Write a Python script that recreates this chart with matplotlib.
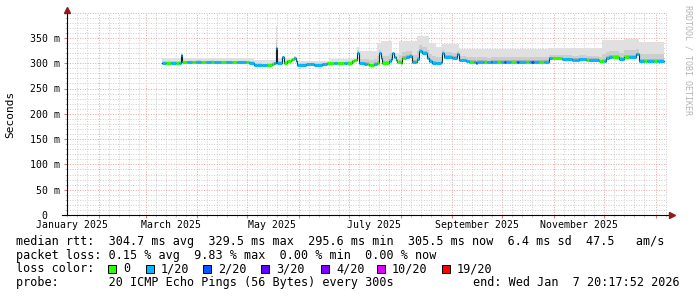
import matplotlib
matplotlib.use("Agg")
import matplotlib.pyplot as plt
import matplotlib.dates as mdates
from matplotlib.patches import Rectangle
from matplotlib.ticker import MultipleLocator, FuncFormatter, NullFormatter
import numpy as np
import pandas as pd

MONO = "DejaVu Sans Mono"

# graph window (last 360 days)
start = pd.Timestamp("2025-01-12 20:17:52")
end = pd.Timestamp("2026-01-07 20:17:52")
data_end = "2026-01-06"

# median rtt (ms), step values starting at each date, and lost pings out of 20
median_dates = [
    "2025-03-11", "2025-03-13", "2025-03-16", "2025-03-19", "2025-03-21", "2025-03-22", "2025-03-23",
    "2025-03-26", "2025-03-29", "2025-03-31", "2025-04-03", "2025-04-06", "2025-04-09", "2025-04-11",
    "2025-04-15", "2025-04-18", "2025-04-22", "2025-04-25", "2025-04-30", "2025-05-02", "2025-05-05",
    "2025-05-07", "2025-05-10", "2025-05-13", "2025-05-16", "2025-05-17", "2025-05-18", "2025-05-19",
    "2025-05-22", "2025-05-23", "2025-05-25", "2025-05-27", "2025-05-28", "2025-05-29", "2025-05-30",
    "2025-05-31", "2025-06-05", "2025-06-10", "2025-06-15", "2025-06-18", "2025-06-22", "2025-06-24",
    "2025-06-28", "2025-06-30", "2025-07-03", "2025-07-04", "2025-07-06", "2025-07-07", "2025-07-10",
    "2025-07-12", "2025-07-13", "2025-07-16", "2025-07-18", "2025-07-19", "2025-07-20", "2025-07-21",
    "2025-07-25", "2025-07-26", "2025-07-27", "2025-07-28", "2025-07-29", "2025-07-30", "2025-08-01",
    "2025-08-02", "2025-08-04", "2025-08-06", "2025-08-08", "2025-08-10", "2025-08-11", "2025-08-12",
    "2025-08-14", "2025-08-17", "2025-08-18", "2025-08-20", "2025-08-22", "2025-08-25", "2025-08-26",
    "2025-08-27", "2025-09-01", "2025-09-04", "2025-09-05", "2025-09-09", "2025-09-11", "2025-09-14",
    "2025-09-15", "2025-09-16", "2025-09-20", "2025-09-22", "2025-09-24", "2025-09-25", "2025-09-28",
    "2025-09-30", "2025-10-02", "2025-10-03", "2025-10-06", "2025-10-09", "2025-10-10", "2025-10-11",
    "2025-10-15", "2025-10-17", "2025-10-18", "2025-10-20", "2025-10-23", "2025-10-26", "2025-10-29",
    "2025-10-31", "2025-11-06", "2025-11-12", "2025-11-16", "2025-11-20", "2025-11-22", "2025-11-28",
    "2025-12-01", "2025-12-02", "2025-12-04", "2025-12-06", "2025-12-10", "2025-12-13", "2025-12-16",
    "2025-12-20", "2025-12-22", "2025-12-25", "2025-12-27", "2025-12-31", "2026-01-02",
]
median_ms = [
    300, 300, 301, 300, 301, 317, 302,
    302, 302, 303, 302, 302, 303, 302,
    302, 302, 302, 302, 302, 301, 297,
    296, 295.6, 297, 299, 301, 329.5, 301,
    313, 301, 304, 307, 309, 311, 304,
    297, 298, 297, 298, 300, 300, 300,
    300, 301, 304, 307, 320, 300, 299,
    299, 296, 299, 300, 320, 310, 300,
    304, 308, 320, 312, 306, 302, 300,
    310, 313, 315, 303, 302, 308, 325,
    320, 310, 305, 301, 300, 302, 320,
    313, 311, 318, 307, 305, 303, 303,
    300, 303, 303, 302, 303, 303, 303,
    303, 303, 303, 303, 303, 303, 303,
    303, 303, 303, 303, 303, 303, 310,
    310, 309, 307, 308, 307, 307, 304,
    304, 310, 313, 313, 308, 313, 313,
    318, 305, 305, 305, 305, 305,
]
median_loss = [
    1, 0, 1, 0, 1, 1, 0,
    1, 0, 1, 0, 1, 0, 1,
    0, 1, 0, 1, 0, 1, 1,
    1, 1, 0, 0, 1, 1, 1,
    1, 0, 0, 0, 0, 1, 1,
    1, 1, 1, 1, 0, 1, 0,
    1, 0, 0, 0, 1, 1, 1,
    0, 0, 1, 0, 1, 1, 0,
    1, 1, 1, 1, 0, 0, 0,
    0, 1, 1, 1, 0, 1, 1,
    1, 1, 1, 1, 1, 1, 1,
    1, 1, 1, 1, 1, 0, 1,
    2, 1, 0, 1, 2, 1, 0,
    1, 2, 1, 0, 1, 2, 1,
    0, 1, 2, 1, 0, 1, 1,
    0, 1, 1, 1, 0, 1, 0,
    1, 1, 1, 0, 1, 0, 1,
    1, 1, 0, 1, 0, 1,
]

# top of the smoke (slowest pings), ms
smoke_dates = [
    "2025-03-11", "2025-03-22", "2025-03-23", "2025-05-05", "2025-05-18", "2025-05-19", "2025-05-22",
    "2025-05-23", "2025-05-29", "2025-05-30", "2025-05-31", "2025-06-19", "2025-07-06", "2025-07-07",
    "2025-07-18", "2025-07-20", "2025-07-27", "2025-07-31", "2025-08-11", "2025-08-18", "2025-08-22",
    "2025-08-26", "2025-09-05", "2025-10-29", "2025-11-30", "2025-12-13", "2025-12-22",
]
smoke_top_ms = [
    311, 318, 311, 306, 374, 310, 315,
    310, 314, 310, 304, 308, 332, 324,
    340, 343, 320, 343, 354, 340, 333,
    338, 328, 330, 345, 348, 342,
]

loss_levels = [0, 1, 2, 3, 4, 10, 19]
loss_labels = ["0", "1/20", "2/20", "3/20", "4/20", "10/20", "19/20"]
loss_colors = ["#26ff00", "#00b8ff", "#0059ff", "#5e00ff", "#7e00ff", "#dd00ff", "#ff0000"]
color_of = dict(zip(loss_levels, loss_colors))

legend_lines = [
    "median rtt:  304.7 ms avg  329.5 ms max  295.6 ms min  305.5 ms now  6.4 ms sd  47.5   am/s",
    "packet loss: 0.15 % avg  9.83 % max  0.00 % min  0.00 % now",
    "loss color:",
    "probe:       20 ICMP Echo Pings (56 Bytes) every 300s",
]
end_text = "end: Wed Jan  7 20:17:52 2026"

W, H = 697, 297
fig = plt.figure(figsize=(W / 100, H / 100), dpi=100)
fig.patch.set_facecolor("white")
ax = fig.add_axes([67 / W, 82 / H, 600 / W, 202.4 / H])

t_med = mdates.date2num(pd.to_datetime(median_dates + [data_end]))
t_smk = mdates.date2num(pd.to_datetime(smoke_dates + [data_end]))

# smoke, shaded darker towards the median
tt = np.union1d(t_med, t_smk)
im = np.clip(np.searchsorted(t_med, tt, side="right") - 1, 0, len(median_ms) - 1)
ist = np.clip(np.searchsorted(t_smk, tt, side="right") - 1, 0, len(smoke_top_ms) - 1)
med = np.asarray(median_ms, float)[im]
top = np.maximum(np.asarray(smoke_top_ms, float)[ist], med)
for f0, f1, c in [(0, 0.1, "#b2b2b2"), (0.1, 0.35, "#cdcdcd"), (0.35, 1.0, "#e0e0e0")]:
    ax.fill_between(tt, med + f0 * (top - med), med + f1 * (top - med),
                    step="post", color=c, lw=0, zorder=2)

# thin dark median line, then loss coloured segments
ax.step(t_med, median_ms + [median_ms[-1]], where="post", color="#202020", lw=0.8, zorder=3)
ax.hlines(median_ms, t_med[:-1], t_med[1:], colors=[color_of[l] for l in median_loss],
          lw=2.2, zorder=4)

ax.set_xlim(mdates.date2num(start), mdates.date2num(end))
ax.set_ylim(0, 400)

# grids
ax.set_axisbelow(True)
ax.yaxis.set_major_locator(MultipleLocator(50))
ax.yaxis.set_minor_locator(MultipleLocator(10))


def ms_label(v, pos):
    if v == 0:
        return "0  "
    if v >= 400:
        return ""
    return f"{v:.0f} m"


ax.yaxis.set_major_formatter(FuncFormatter(ms_label))
ax.xaxis.set_major_locator(mdates.MonthLocator())
ax.xaxis.set_minor_locator(mdates.DayLocator(bymonthday=[7, 13, 19, 25]))
ax.xaxis.set_major_formatter(NullFormatter())
dots = (0, (1, 1.6))
for a in (ax.xaxis, ax.yaxis):
    a.grid(True, which="minor", color="#cdcdcd", lw=0.7, ls=dots)
    a.grid(True, which="major", color="#e9a3a3", lw=0.7, ls=dots)
ax.tick_params(which="major", length=2.2, color="#d08080", labelsize=7.1, pad=3.0)
ax.tick_params(which="minor", length=1.5, color="#bbbbbb")
for lab in ax.get_yticklabels():
    lab.set_family(MONO)

for s in ax.spines.values():
    s.set_visible(False)
ax.plot([-0.008, 1.008], [0, 0], transform=ax.transAxes, color="black", lw=0.8,
        clip_on=False, zorder=6)
ax.plot([0, 0], [0, 1.005], transform=ax.transAxes, color="black", lw=0.8,
        clip_on=False, zorder=6)
ax.plot([1.008], [0], marker=">", ms=4, color="#8e1c1c", transform=ax.transAxes, clip_on=False, zorder=7)
ax.plot([0], [1.011], marker="^", ms=4, color="#8e1c1c", transform=ax.transAxes, clip_on=False, zorder=7)

# month labels, centred half a month after each second month start
label_months = pd.date_range("2025-01-01", "2025-11-01", freq="2MS")
for m in label_months:
    ax.text(mdates.date2num(m + pd.Timedelta(days=15)), -0.05, m.strftime("%B %Y"),
            transform=ax.get_xaxis_transform(), ha="center", va="center",
            family=MONO, size=7.1)

fig.text(10.7 / W, 1 - 114 / H, "Seconds", rotation=90, ha="center", va="center",
         family=MONO, size=8)
fig.text(688 / W, 1 - 60 / H, "RRDTOOL / TOBI OETIKER", rotation=270, ha="center",
         va="center", family=MONO, size=6, color="#b4b4b4")

# legend block
for y, line in zip([241.7, 255.2, 269.0, 282.7], legend_lines):
    fig.text(16 / W, 1 - y / H, line, ha="left", va="center", family=MONO, size=8.5)
fig.text(680 / W, 1 - 282.7 / H, end_text, ha="right", va="center", family=MONO, size=8.5)

box_x = [108, 146, 203, 261, 321, 377, 442]
for bx, lab, c in zip(box_x, loss_labels, loss_colors):
    fig.add_artist(Rectangle((bx / W, 1 - 273 / H), 8 / W, 8 / H, transform=fig.transFigure,
                             facecolor=c, edgecolor="black", lw=0.7))
    fig.text((bx + 15) / W, 1 - 269.0 / H, lab, ha="left", va="center", family=MONO, size=8.5)

fig.savefig("out.png", dpi=100)
